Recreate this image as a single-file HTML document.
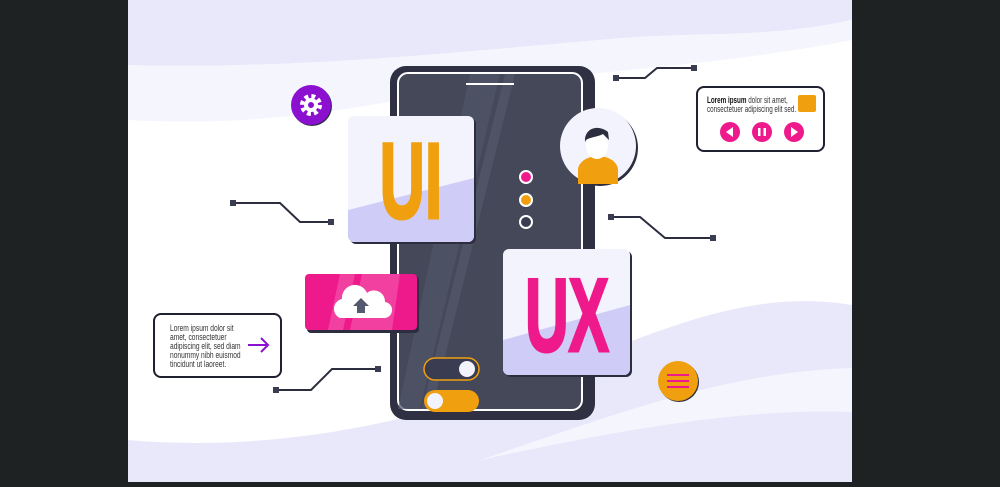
<!DOCTYPE html>
<html><head><meta charset="utf-8"><style>
html,body{margin:0;padding:0;background:#1e2222;}
svg{display:block}
text{font-family:"Liberation Sans",sans-serif}
</style></head><body>
<svg width="1000" height="487" viewBox="0 0 1000 487" xmlns="http://www.w3.org/2000/svg">
<rect width="1000" height="487" fill="#1e2222"/>
<rect x="128" y="0" width="724" height="482" fill="#ffffff"/>
<!-- top waves -->
<path d="M128 0 H852 V20 C760 40 700 30 600 40 C480 50 300 70 128 65 Z" fill="#e9e8fb"/>
<path d="M128 65 C300 70 480 50 600 40 C700 30 760 40 852 20 V40 C700 70 560 70 400 100 C300 118 220 125 128 120 Z" fill="#f5f5fe"/>
<!-- bottom waves -->
<path d="M128 440 C300 455 450 410 560 370 C680 320 760 290 852 305 V482 H128 Z" fill="#e9e8fb"/>
<path d="M480 460 C600 420 720 372 852 368 V412 C740 408 620 430 480 460 Z" fill="#f5f5fe"/>
<!-- connectors -->
<g stroke="#2c2e40" stroke-width="2" fill="none">
<polyline points="233,203 280,203 300,222 331,222"/>
<polyline points="616,78 645,78 657,68 694,68"/>
<polyline points="611,217 640,217 665,238 713,238"/>
<polyline points="276,390 311,390 332,369 378,369"/>
</g>
<g fill="#3a3d52">
<rect x="230" y="200" width="6" height="6"/><rect x="328" y="219" width="6" height="6"/>
<rect x="613" y="75" width="6" height="6"/><rect x="691" y="65" width="6" height="6"/>
<rect x="608" y="214" width="6" height="6"/><rect x="710" y="235" width="6" height="6"/>
<rect x="273" y="387" width="6" height="6"/><rect x="375" y="366" width="6" height="6"/>
</g>
<!-- phone -->
<rect x="390" y="66" width="205" height="354" rx="16" fill="#2f3142"/>
<rect x="398" y="73" width="184" height="337" rx="10" fill="#444859" stroke="#fff" stroke-width="2"/>
<path d="M470 74 L500 74 L420 409 L398 409 Z" fill="#50556a" opacity=".7"/>
<path d="M505 74 L515 74 L432 409 L422 409 Z" fill="#565b70" opacity=".6"/>
<line x1="466" y1="84" x2="514" y2="84" stroke="#fff" stroke-width="2"/>
<circle cx="526" cy="177" r="6" fill="#ee1a8c" stroke="#fff" stroke-width="2"/>
<circle cx="526" cy="200" r="6" fill="#f0a00e" stroke="#fff" stroke-width="2"/>
<circle cx="526" cy="222" r="6" fill="#3a3d52" stroke="#fff" stroke-width="2"/>
<rect x="424" y="358" width="55" height="22" rx="11" fill="#3a3d52" stroke="#f0a00e" stroke-width="1.5"/>
<circle cx="467" cy="369" r="8" fill="#f3f3fd"/>
<rect x="424" y="390" width="55" height="22" rx="11" fill="#f0a00e"/>
<circle cx="435" cy="401" r="8" fill="#f3f3fd"/>
<!-- UI card -->
<rect x="350" y="118" width="126" height="126" rx="6" fill="#2c2e40"/>
<rect x="348" y="116" width="126" height="126" rx="6" fill="#f3f3fd"/>
<path d="M348 210 L474 178 V236 a6 6 0 0 1 -6 6 H354 a6 6 0 0 1 -6 -6 Z" fill="#cfcdf7"/>
<text x="411" y="218" text-anchor="middle" font-size="108" font-weight="bold" fill="#f0a00e" stroke="#f0a00e" stroke-width="3" transform="translate(411 0) scale(0.58 1) translate(-411 0)">UI</text>
<!-- UX card -->
<rect x="505" y="251" width="127" height="126" rx="6" fill="#2c2e40"/>
<rect x="503" y="249" width="127" height="126" rx="6" fill="#f3f3fd"/>
<path d="M503 340 L630 305 V369 a6 6 0 0 1 -6 6 H509 a6 6 0 0 1 -6 -6 Z" fill="#cfcdf7"/>
<text x="567" y="351" text-anchor="middle" font-size="104" font-weight="bold" fill="#ee1a8c" stroke="#ee1a8c" stroke-width="3" transform="translate(567 0) scale(0.58 1) translate(-567 0)">UX</text>
<!-- avatar -->
<circle cx="600" cy="148" r="38" fill="#2c2e40"/>
<circle cx="598" cy="146" r="38" fill="#f3f3fd"/>
<path d="M578 184 V170 a20 14 0 0 1 40 0 V184 Z" fill="#f0a00e"/>
<ellipse cx="597" cy="146" rx="11" ry="13" fill="#fff"/>
<path d="M585 142 C584 128 598 124 608 132 L609 140 L603 134 C598 137 590 137 586 140 Z" fill="#2c2e40"/>
<!-- upload card -->
<rect x="307" y="276" width="112" height="57" rx="4" fill="#2c2e40"/>
<rect x="305" y="274" width="112" height="56" rx="4" fill="#ee1a8c"/>
<path d="M340 274 L355 274 L343 330 L328 330 Z M362 274 L400 274 L392 330 L350 330 Z" fill="#f24aa6" opacity=".8"/>
<path d="M340 318 a10 10 0 0 1 2 -19 a13 13 0 0 1 25 -6 a11 11 0 0 1 18 9 a8 8 0 0 1 -2 16 Z" fill="#fff"/>
<path d="M361 298 L369 306 H365 V313 H357 V306 H353 Z" fill="#555a6e"/>
<!-- gear -->
<circle cx="312" cy="106" r="20" fill="#2c2e40"/>
<circle cx="311" cy="105" r="20" fill="#8b10d0"/>
<circle cx="311" cy="105" r="8" fill="none" stroke="#fff" stroke-width="6" stroke-dasharray="3.5 2.8"/>
<circle cx="311" cy="105" r="7" fill="#fff"/>
<circle cx="311" cy="105" r="3" fill="#8b10d0"/>
<!-- menu -->
<circle cx="679" cy="382" r="20" fill="#2c2e40"/>
<circle cx="678" cy="381" r="20" fill="#f0a00e"/>
<g stroke="#ee1a8c" stroke-width="2"><line x1="667" y1="375" x2="689" y2="375"/><line x1="667" y1="381" x2="689" y2="381"/><line x1="667" y1="387" x2="689" y2="387"/></g>
<!-- left textbox -->
<rect x="154" y="314" width="127" height="63" rx="7" fill="#fff" stroke="#1f2030" stroke-width="2"/>
<g font-size="9" fill="#333" transform="translate(170 0) scale(0.74 1) translate(-170 0)">
<text x="170" y="331">Lorem ipsum dolor sit</text>
<text x="170" y="340">amet, consectetuer</text>
<text x="170" y="349">adipiscing elit, sed diam</text>
<text x="170" y="358">nonummy nibh euismod</text>
<text x="170" y="367">tincidunt ut laoreet.</text>
</g>
<path d="M248 345 H268 M261 338 L268 345 L261 352" stroke="#8b10d0" stroke-width="2" fill="none"/>
<!-- right box -->
<rect x="697" y="87" width="127" height="64" rx="7" fill="#fff" stroke="#1f2030" stroke-width="2"/>
<g font-size="9" fill="#333" transform="translate(707 0) scale(0.7 1) translate(-707 0)">
<text x="707" y="103"><tspan font-weight="bold" fill="#111">Lorem ipsum</tspan> dolor sit amet,</text>
<text x="707" y="112">consectetuer adipiscing elit sed.</text>
</g>
<rect x="798" y="95" width="18" height="17" rx="2" fill="#f0a00e"/>
<circle cx="730" cy="132" r="10" fill="#ee1a8c"/><path d="M726 132 L733 127 V137 Z" fill="#fff"/>
<circle cx="762" cy="132" r="10" fill="#ee1a8c"/><rect x="758" y="128" width="2.5" height="8" fill="#fff"/><rect x="763.5" y="128" width="2.5" height="8" fill="#fff"/>
<circle cx="794" cy="132" r="10" fill="#ee1a8c"/><path d="M798 132 L791 127 V137 Z" fill="#fff"/>
</svg>
</body></html>
